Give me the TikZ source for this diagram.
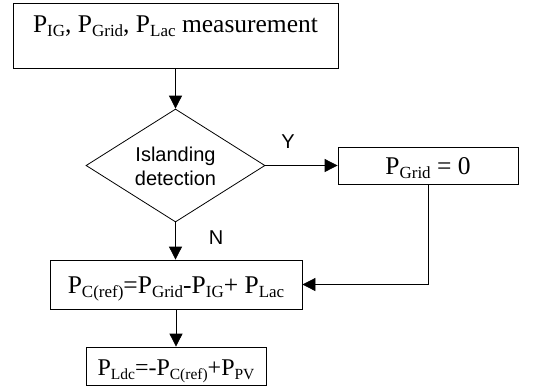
\documentclass[tikz,border=0pt]{standalone}
\usepackage{fontspec}
\setmainfont{Liberation Serif}
\newfontfamily\arialf{Liberation Sans}
\usetikzlibrary{arrows.meta,shapes.geometric}
\newcommand\Psub[1]{P\raisebox{-4.5pt}{\fontsize{17}{17}\selectfont #1}}
\newcommand\Psubs[1]{P\raisebox{-4pt}{\fontsize{15.5}{15.5}\selectfont #1}}
\begin{document}
\begin{tikzpicture}[x=1pt,y=-1pt,
 box/.style={draw, line width=0.8pt, inner sep=0pt, anchor=center},
 txt/.style={font=\fontsize{25.5}{25.5}\selectfont, inner sep=0pt},
 txts/.style={font=\fontsize{24}{24}\selectfont, inner sep=0pt},
 lbl/.style={font=\arialf\fontsize{20}{24}\selectfont, inner sep=0pt},
 arr/.style={line width=0.8pt, -{Triangle[length=13pt,width=13pt]}}]
\useasboundingbox (0,0) rectangle (545,386);
\node[box, minimum width=325pt, minimum height=65pt] (m) at (175.5,35.5) {};
\node[txt, anchor=base] (mt) at (175.5,32) {\Psub{IG}, \Psub{Grid}, \Psub{Lac} measurement};
\node[draw, diamond, line width=0.8pt, minimum width=179pt, minimum height=113pt, inner sep=0pt] (d) at (175.5,165.5) {};
\node[lbl, align=center] (dt) at (175.5,166) {Islanding\\detection};
\node[box, minimum width=180pt, minimum height=37pt] (g) at (428,165.5) {};
\node[txt, anchor=base] (gt) at (428,174) {\Psub{Grid} = 0};
\node[box, minimum width=252pt, minimum height=49pt] (c) at (176,284.5) {};
\node[txt, anchor=base] (ct) at (176,293) {\Psub{C(ref)}=\Psub{Grid}-\Psub{IG}+ \Psub{Lac}};
\node[box, minimum width=180pt, minimum height=38pt] (l) at (176,366) {};
\node[txts, anchor=base] (lt) at (176,375) {\Psubs{Ldc}=-\Psubs{C(ref)}+\Psubs{PV}};
\node[lbl] (y) at (288,142) {Y};
\node[lbl] (n) at (216,238) {N};
\draw[arr] (m.south -| d.north) -- (d.north);
\draw[arr] (d.east) -- (g.west);
\draw[arr] (d.south) -- (c.north -| d.south);
\draw[arr] (g.south) |- (c.east);
\draw[arr] (c.south -| l.north) -- (l.north);
\end{tikzpicture}
\end{document}
